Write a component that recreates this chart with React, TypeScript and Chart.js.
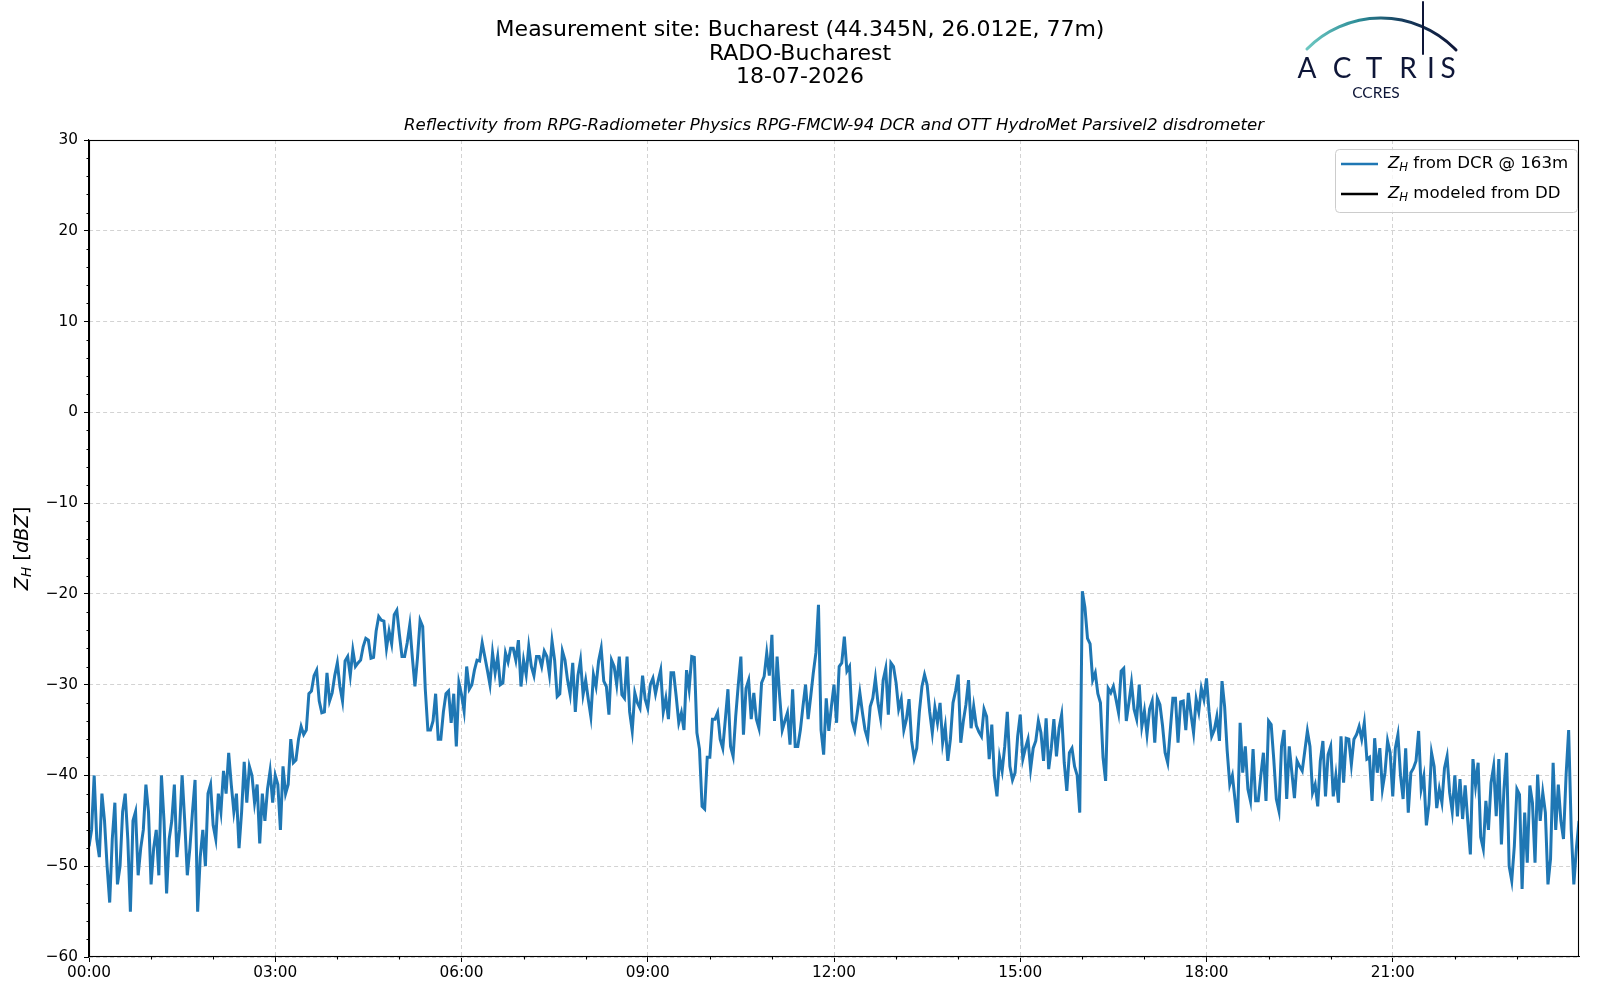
import { useEffect, useRef } from "react";
import { Chart, registerables } from "chart.js";

Chart.register(...registerables);

// DCR reflectivity, 2.5-minute samples in dBZ, one array per 3-hour block
const zh0003 = [
  -47.8, -46, -40, -47, -49, -42, -45, -50, -54, -47, -43, -52,
  -50, -44, -42, -47, -55, -45, -44, -51, -48, -46, -41, -44,
  -52, -48, -46, -51, -40, -45, -53, -47, -45, -41, -49, -46,
  -40, -45, -51, -48, -44, -40.5, -55, -49, -46, -50, -42, -41,
  -45.5, -47, -42, -44, -39.5, -42, -37.5, -41, -44, -42, -48, -44,
  -38.5, -43, -39, -40, -43, -41, -47.5, -42, -45, -41.5, -39.5, -43,
];
const zh0306 = [
  -40, -41, -46, -39, -42, -41, -36, -38.6, -38.3, -36, -34.6, -35.5,
  -35, -31, -30.7, -29, -28.4, -31.8, -33.1, -33, -28.7, -31.8, -30.9, -29,
  -27.6, -30.2, -31.8, -27.4, -26.9, -29, -26.2, -28, -27.6, -27.3, -25.8, -24.9,
  -25.1, -27.1, -27, -24.1, -22.5, -22.9, -23, -26, -24.1, -25.5, -22.3, -21.8,
  -24.5, -26.9, -26.9, -25.4, -23.4, -27, -30.2, -27, -22.9, -23.6, -30.5, -35,
  -35, -34, -31, -36, -36, -33, -31, -30.7, -34.2, -31, -36.8, -29.8,
];
const zh0609 = [
  -31.1, -32.9, -28, -30.5, -30, -28.4, -27.3, -27.4, -25.4, -26.9, -28.4, -30,
  -26.5, -28.7, -26.9, -30, -29.8, -26.5, -27.5, -26, -26, -27.3, -25.1, -30.2,
  -27.3, -28.9, -25.8, -28, -29, -26.9, -26.9, -28, -26.3, -26.9, -28.9, -25.2,
  -27.3, -31.3, -31, -26.3, -27.3, -29.5, -31.1, -27.6, -33, -29, -27.3, -31.1,
  -29.5, -31.6, -33.5, -28.9, -30.2, -27.4, -26, -29.6, -30.2, -33.3, -27.3, -28,
  -30, -26.9, -31.1, -31.5, -26.9, -33, -35.1, -30.9, -32, -32.6, -29, -31.6,
];
const zh0912 = [
  -32.6, -30, -29.3, -31, -29.6, -28.4, -33, -31.5, -33.8, -28.7, -28.7, -31.3,
  -34.2, -33.1, -35, -28.4, -30.5, -26.9, -27, -35.3, -37.1, -43.4, -43.7, -38,
  -38, -33.8, -33.8, -33.1, -36, -37, -33.8, -30.5, -36.8, -37.9, -33.5, -30,
  -26.9, -35.5, -30.4, -29.5, -33.8, -30.9, -33.8, -34.8, -29.8, -29.1, -26.5, -29,
  -24.5, -34, -26.9, -31.3, -35, -34, -33.1, -36.6, -30.5, -36.8, -36.8, -35,
  -32.4, -30, -33.8, -31.3, -28.7, -26.5, -21.2, -35, -37.7, -31.5, -35.1, -32.4,
];
const zh1215 = [
  -30, -34.2, -28, -27.6, -24.7, -28.5, -28, -34, -35, -33.1, -30.9, -33.1,
  -35, -36, -32.4, -31.5, -29.3, -32, -33.7, -29.5, -28.2, -33.3, -27.6, -28,
  -29.8, -32.7, -31.6, -35, -33.8, -31.6, -36.2, -38.1, -37, -33, -30.2, -28.9,
  -30, -33, -35.3, -32.5, -34.2, -32, -36.4, -34.6, -38.4, -36, -32, -30.7,
  -28.9, -36.4, -34, -32.2, -29.5, -34.8, -32.4, -34.5, -35.2, -35.7, -32.7, -33.5,
  -38.2, -34.4, -40.1, -42.3, -38, -39.5, -36.8, -33, -39, -40.5, -39.7, -35.7,
];
const zh1518 = [
  -33.3, -38.2, -37, -36, -39.3, -37, -36.2, -34, -35.3, -38.4, -33.7, -39.3,
  -37, -33.8, -37.9, -34.8, -33.3, -38.6, -41.7, -37.5, -37, -39, -40, -44.1,
  -19.7, -21.5, -24.9, -25.5, -29.5, -28.7, -31, -32, -38, -40.6, -30.4, -30.9,
  -30.2, -31.6, -33.1, -28.5, -28.2, -34, -32, -29.8, -32.7, -33.8, -30, -34.6,
  -32.9, -35.5, -32.7, -31.8, -36.4, -31.5, -32.2, -34.5, -37.5, -38.6, -35, -31.5,
  -31.5, -36.4, -31.9, -31.8, -35, -30.9, -33.3, -35.3, -31.6, -33, -30.4, -31.6,
];
const zh1821 = [
  -29.3, -33, -35.7, -35, -33.5, -36.2, -29.6, -32.4, -37.3, -41, -40, -42.6,
  -45.2, -34.2, -39.7, -36.8, -41.5, -42.8, -37.1, -42.8, -42.8, -40, -37.5, -42.8,
  -34, -34.4, -38.2, -42.6, -43.9, -36.8, -35, -42.6, -36.8, -39.7, -42.5, -38.4,
  -39, -39.5, -37.3, -35.1, -36.8, -41.9, -41, -43.4, -38.4, -36.2, -42.3, -37.7,
  -36.8, -42.3, -40, -43, -35.7, -40.8, -35.9, -36, -38.8, -36, -35.5, -34.6,
  -36, -34.2, -38.2, -38, -42.8, -35.9, -39.7, -37, -41.5, -39.7, -36.2, -37.5,
];
const zh2124 = [
  -42.3, -37, -35.5, -40, -42.6, -37, -44.1, -39.7, -39.2, -38.4, -35.1, -41.5,
  -40.1, -45.5, -43.2, -37.5, -39, -43.6, -41.5, -43, -39.2, -37.9, -41.9, -44,
  -40, -44.5, -40.4, -44.8, -41.1, -45, -48.7, -38.2, -41.1, -38.6, -46.8, -48.1,
  -42.8, -46, -40.8, -39, -44.5, -38.2, -47.6, -41.5, -37.5, -50, -51.6, -47.8,
  -41.5, -42.1, -52.5, -44.1, -49.6, -41.1, -43, -49.6, -39.9, -45, -41.9, -44.1,
  -52, -49.2, -38.6, -46, -41, -45, -47, -40, -35, -46, -52, -48, -45,
];
// disdrometer-modelled reflectivity: no valid samples on this day
const ddModeled: { x: number; y: number }[] = [];

const sampleMinutes = 2.5;
const xTickHours = [0, 3, 6, 9, 12, 15, 18, 21];
const yTicks = [-60, -50, -40, -30, -20, -10, 0, 10, 20, 30];

const titleLines = [
  "Measurement site: Bucharest (44.345N, 26.012E, 77m)",
  "RADO-Bucharest",
  "18-07-2026",
];
const subTitle =
  "Reflectivity from RPG-Radiometer Physics RPG-FMCW-94 DCR and OTT HydroMet Parsivel2 disdrometer";
const legendItems = [
  { text: " from DCR @ 163m", color: "#1f77b4" },
  { text: " modeled from DD", color: "#000000" },
];

const FONT = '"DejaVu Sans"';
const NAVY = "#0e1638";

const dcrPoints = [zh0003, zh0306, zh0609, zh0912, zh1215, zh1518, zh1821, zh2124]
  .flat()
  .map((v, i) => ({ x: (i * sampleMinutes) / 60, y: v }));

// italic Z with subscript H, returns advance width
function drawZH(ctx: CanvasRenderingContext2D, x: number, y: number, size: number) {
  ctx.font = `italic ${size}px ${FONT}`;
  ctx.fillText("Z", x, y);
  let w = ctx.measureText("Z").width;
  ctx.font = `italic ${size * 0.7}px ${FONT}`;
  ctx.fillText("H", x + w, y + size * 0.22);
  w += ctx.measureText("H").width;
  return w;
}

function drawLogo(ctx: CanvasRenderingContext2D) {
  ctx.save();
  const cx = 1381, cy = 122, r = 104;
  const start = Math.atan2(49 - cy, 1307 - cx);
  const end = Math.atan2(50 - cy, 1456 - cx);
  const grad = ctx.createLinearGradient(1307, 0, 1456, 0);
  grad.addColorStop(0, "#6cc7c1");
  grad.addColorStop(0.35, "#2c8c97");
  grad.addColorStop(0.65, "#163a5c");
  grad.addColorStop(1, NAVY);
  ctx.strokeStyle = grad;
  ctx.lineCap = "round";
  ctx.lineWidth = 3;
  ctx.beginPath();
  ctx.arc(cx, cy, r, start, end);
  ctx.stroke();
  // mast
  ctx.strokeStyle = NAVY;
  ctx.lineWidth = 2;
  ctx.beginPath();
  ctx.moveTo(1423, 2);
  ctx.lineTo(1423, 54);
  ctx.stroke();
  ctx.fillStyle = NAVY;
  ctx.textAlign = "center";
  ctx.textBaseline = "alphabetic";
  ctx.font = `400 28px Lato`;
  const letters = ["A", "C", "T", "R", "I", "S"];
  const lx = [1307, 1342, 1374, 1408, 1431, 1448];
  letters.forEach((l, i) => ctx.fillText(l, lx[i], 78));
  ctx.font = `400 15.5px Lato`;
  ctx.fillText("CCRES", 1376, 98);
  ctx.restore();
}

const decorPlugin = {
  id: "decor",
  afterDraw(chart: any) {
    const { ctx, chartArea: a, scales } = chart;
    const left = Math.round(a.left) + 0.5;
    const right = Math.round(a.right) - 0.5;
    const top = Math.round(a.top) + 0.5;
    const bottom = Math.round(a.bottom) - 0.5;
    ctx.save();
    ctx.strokeStyle = "#000";
    ctx.lineWidth = 1.1;
    ctx.setLineDash([]);
    ctx.strokeRect(left, top, right - left, bottom - top);

    // minor ticks
    ctx.beginPath();
    for (let v = -60; v <= 30; v += 2) {
      if (v % 10 === 0) continue;
      const py = Math.round(scales.y.getPixelForValue(v)) + 0.5;
      ctx.moveTo(left, py);
      ctx.lineTo(left - 3, py);
    }
    for (let h = 0; h <= 24; h += 1) {
      if (h % 3 === 0) continue;
      const px = Math.round(scales.x.getPixelForValue(h)) + 0.5;
      ctx.moveTo(px, bottom);
      ctx.lineTo(px, bottom + 3);
    }
    ctx.stroke();

    // titles
    ctx.fillStyle = "#000";
    ctx.textAlign = "center";
    ctx.textBaseline = "alphabetic";
    ctx.font = `22px ${FONT}`;
    titleLines.forEach((t, i) => ctx.fillText(t, 800, 36 + i * 23.5));
    ctx.textBaseline = "middle";
    ctx.font = `italic 16.6px ${FONT}`;
    ctx.fillText(subTitle, (a.left + a.right) / 2, 126);

    // y axis label
    ctx.save();
    ctx.translate(23, (a.top + a.bottom) / 2);
    ctx.rotate(-Math.PI / 2);
    ctx.textAlign = "left";
    const fs = 19.4;
    ctx.font = `italic ${fs}px ${FONT}`;
    const wZ = ctx.measureText("Z").width;
    ctx.font = `italic ${fs * 0.7}px ${FONT}`;
    const wH = ctx.measureText("H").width;
    ctx.font = `${fs}px ${FONT}`;
    const wB1 = ctx.measureText(" [").width;
    const wB2 = ctx.measureText("]").width;
    ctx.font = `italic ${fs}px ${FONT}`;
    const wD = ctx.measureText("dBZ").width;
    let x0 = -(wZ + wH + wB1 + wD + wB2) / 2;
    x0 += drawZH(ctx, x0, 0, fs);
    ctx.font = `${fs}px ${FONT}`;
    ctx.fillText(" [", x0, 0);
    x0 += wB1;
    ctx.font = `italic ${fs}px ${FONT}`;
    ctx.fillText("dBZ", x0, 0);
    x0 += wD;
    ctx.font = `${fs}px ${FONT}`;
    ctx.fillText("]", x0, 0);
    ctx.restore();

    // legend
    ctx.save();
    ctx.fillStyle = "rgba(255,255,255,0.8)";
    ctx.strokeStyle = "#cccccc";
    ctx.lineWidth = 1;
    ctx.beginPath();
    ctx.roundRect(1335.5, 149.5, 242, 63, 4);
    ctx.fill();
    ctx.stroke();
    legendItems.forEach((it, i) => {
      const y = 164 + i * 30;
      ctx.strokeStyle = it.color;
      ctx.lineWidth = 2.4;
      ctx.beginPath();
      ctx.moveTo(1341, y);
      ctx.lineTo(1378, y);
      ctx.stroke();
      ctx.fillStyle = "#000";
      ctx.textAlign = "left";
      ctx.textBaseline = "middle";
      const w = drawZH(ctx, 1388, y, 16.6);
      ctx.font = `16.6px ${FONT}`;
      ctx.fillText(it.text, 1388 + w, y);
    });
    ctx.restore();

    drawLogo(ctx);
    ctx.restore();
  },
};

function fmtHour(v: number) {
  return String(v).padStart(2, "0") + ":00";
}

export default function App() {
  const canvasRef = useRef<HTMLCanvasElement>(null);
  const chartRef = useRef<any>(null);

  useEffect(() => {
    if (chartRef.current) chartRef.current.destroy();
    const ctx = canvasRef.current?.getContext("2d");
    if (!ctx) return;

    const gridCommon = {
      color: "#d3d3d3",
      lineWidth: 1,
      tickLength: 5,
      tickColor: "#000",
      tickWidth: 1,
      tickBorderDash: [],
    };

    const config: any = {
      type: "line",
      data: {
        datasets: [
          {
            label: "ZH from DCR @ 163m",
            data: dcrPoints,
            borderColor: "#1f77b4",
            borderWidth: 3,
            pointRadius: 0,
            tension: 0,
            fill: false,
          },
          {
            label: "ZH modeled from DD",
            data: ddModeled,
            borderColor: "#000000",
            borderWidth: 2,
            pointRadius: 0,
            fill: false,
          },
        ],
      },
      options: {
        responsive: false,
        animation: false,
        events: [],
        layout: { padding: { top: 140, right: 21, bottom: 0, left: 0 } },
        plugins: {
          legend: { display: false },
          tooltip: { enabled: false },
          title: { display: false },
        },
        scales: {
          x: {
            type: "linear",
            min: 0,
            max: 24,
            afterBuildTicks: (s: any) => {
              s.ticks = xTickHours.map((v) => ({ value: v }));
            },
            afterFit: (s: any) => {
              s.height = 43;
            },
            ticks: {
              autoSkip: false,
              maxRotation: 0,
              padding: 2,
              color: "#000",
              font: { family: "DejaVu Sans", size: 15.3 },
              callback: (v: number) => fmtHour(v),
            },
            grid: gridCommon,
            border: { display: true, color: "#000", width: 1.1, dash: [4, 3] },
          },
          y: {
            type: "linear",
            min: -60,
            max: 30,
            afterBuildTicks: (s: any) => {
              s.ticks = yTicks.map((v) => ({ value: v }));
            },
            afterFit: (s: any) => {
              s.width = 89;
            },
            ticks: {
              autoSkip: false,
              padding: 6,
              color: "#000",
              font: { family: "DejaVu Sans", size: 15.3 },
              callback: (v: number) => (v < 0 ? "\u2212" + Math.abs(v) : String(v)),
            },
            grid: gridCommon,
            border: { display: true, color: "#000", width: 1.1, dash: [4, 3] },
          },
        },
      },
      plugins: [decorPlugin],
    };

    chartRef.current = new Chart(ctx, config);
    return () => {
      if (chartRef.current) {
        chartRef.current.destroy();
        chartRef.current = null;
      }
    };
  }, []);

  return (
    <div style={{ position: "absolute", left: 0, top: 0, width: 1600, height: 1000, background: "#fff" }}>
      <canvas ref={canvasRef} width={1600} height={1000} style={{ display: "block" }} />
    </div>
  );
}
